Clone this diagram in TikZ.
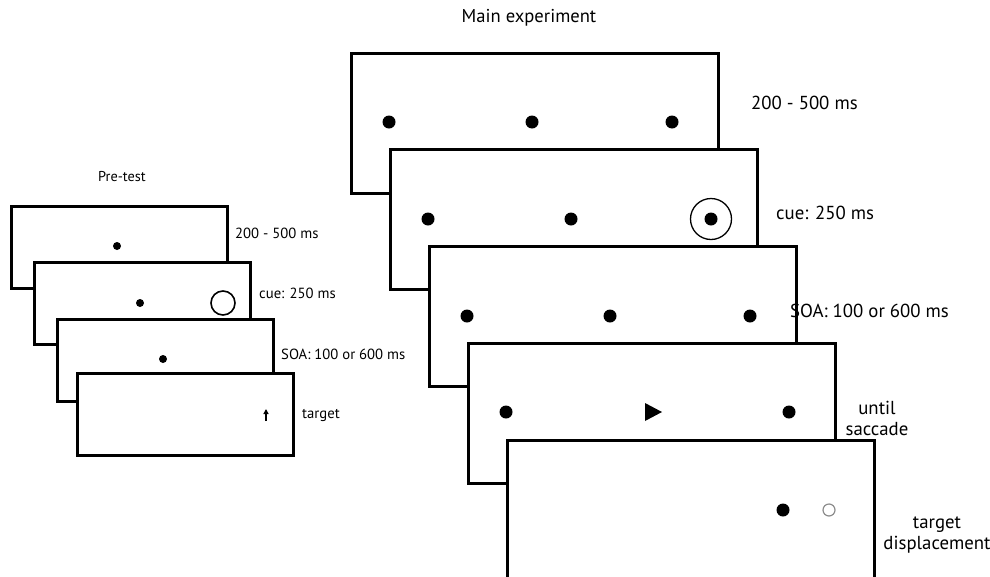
\documentclass[tikz,border=0pt]{standalone}
\usepackage{fontspec}
\setmainfont{PT Sans}
\usetikzlibrary{arrows.meta}
\tikzset{
  mainscreen/.style={draw, fill=white, line width=2.9pt, minimum width=367pt, minimum height=140pt, inner sep=0pt, anchor=north west},
  prescreen/.style={draw, fill=white, line width=2.6pt, minimum width=216pt, minimum height=82pt, inner sep=0pt, anchor=north west},
  bigdot/.style={circle, fill=black, minimum size=13pt, inner sep=0pt},
  smalldot/.style={circle, fill=black, minimum size=8pt, inner sep=0pt},
  mainlabel/.style={font=\fontsize{18.8}{21}\selectfont, inner sep=0pt, anchor=west},
  prelabel/.style={font=\fontsize{14.7}{17}\selectfont, inner sep=0pt, anchor=west},
}
\begin{document}
\begin{tikzpicture}[x=1pt,y=-1pt]
\useasboundingbox (0,0) rectangle (990,576);
% ---------- Pre-test ----------
\node[font=\fontsize{14.3}{17}\selectfont] (pretitle) at (122,177) {Pre-test};
\node[prescreen] (p1) at (10,205) {};
\node[smalldot] (p1d) at (117,246) {};
\node[prescreen] (p2) at (33,261) {};
\node[smalldot] (p2d) at (140,303) {};
\node[circle, draw, line width=1.6pt, minimum size=24pt, inner sep=0pt] (p2c) at (223,303) {};
\node[prescreen] (p3) at (56,318) {};
\node[smalldot] (p3d) at (163,359) {};
\node[prescreen] (p4) at (76,372) {};
\coordinate (arrA) at (266,421);
\coordinate (arrB) at (266,409);
\draw[line width=1.8pt, -{Triangle[width=5pt,length=5pt]}] (arrA) -- (arrB);
\node[prelabel] (pl1) at (235,233) {200 - 500 ms};
\node[prelabel] (pl2) at (259,293) {cue: 250 ms};
\node[prelabel] (pl3) at (281,354) {SOA: 100 or 600 ms};
\node[prelabel] (pl4) at (302,415) {target};
% ---------- Main experiment ----------
\node[font=\fontsize{18.6}{21}\selectfont] (maintitle) at (529,18) {Main experiment};
\node[mainscreen] (m1) at (350,52) {};
\node[bigdot] (m1a) at (389,122) {};
\node[bigdot] (m1b) at (532,122) {};
\node[bigdot] (m1c) at (672,122) {};
\node[mainscreen] (m2) at (389,148) {};
\node[bigdot] (m2a) at (428,219) {};
\node[bigdot] (m2b) at (571,219) {};
\node[bigdot] (m2c) at (711,219) {};
\node[circle, draw, line width=1.3pt, minimum size=41pt, inner sep=0pt] (m2cue) at (711,219) {};
\node[mainscreen] (m3) at (428,245) {};
\node[bigdot] (m3a) at (467,316) {};
\node[bigdot] (m3b) at (610,316) {};
\node[bigdot] (m3c) at (750,316) {};
\node[mainscreen] (m4) at (467,342) {};
\node[bigdot] (m4a) at (506,412) {};
\node[bigdot] (m4c) at (789,412) {};
\coordinate (triA) at (645,403);
\coordinate (triB) at (662,412);
\coordinate (triC) at (645,421);
\fill (triA) -- (triB) -- (triC) -- cycle;
\node[mainscreen] (m5) at (506,439) {};
\node[bigdot] (m5a) at (783,510) {};
\node[circle, draw=black!45, line width=1.2pt, minimum size=12pt, inner sep=0pt] (m5b) at (829,510) {};
\node[mainlabel] (ml1) at (751,103) {200 - 500 ms};
\node[mainlabel] (ml2) at (776,213) {cue: 250 ms};
\node[mainlabel] (ml3) at (790,311) {SOA: 100 or 600 ms};
\node[mainlabel, anchor=center, align=center] (ml4) at (877,418) {until\\saccade};
\node[mainlabel, anchor=center, align=center] (ml5) at (937,535) {target\\displacement};
\end{tikzpicture}
\end{document}
